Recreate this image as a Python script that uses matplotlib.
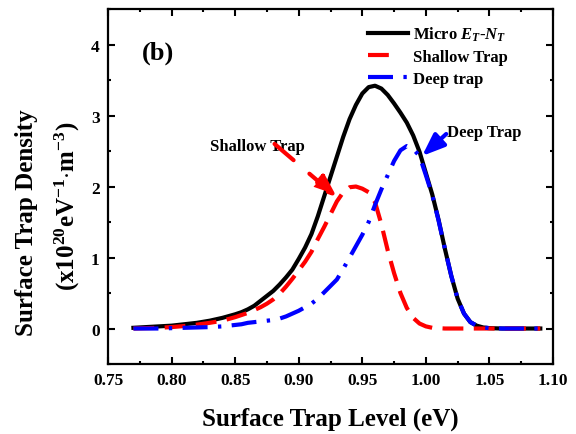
import matplotlib
matplotlib.use('Agg')
import matplotlib.pyplot as plt
from matplotlib.lines import Line2D
from matplotlib.ticker import MultipleLocator, FormatStrFormatter

# ---- data ----
energy = [0.77, 0.78, 0.79, 0.80, 0.81, 0.82, 0.83, 0.84,
          0.85, 0.855, 0.86, 0.865, 0.87, 0.875, 0.88, 0.885, 0.89, 0.895,
          0.90, 0.905, 0.91, 0.915, 0.92, 0.925, 0.93, 0.935, 0.94, 0.945,
          0.95, 0.955, 0.96, 0.965, 0.97, 0.975, 0.98, 0.985, 0.99, 0.995,
          1.00, 1.005, 1.01, 1.015, 1.02, 1.025, 1.03, 1.035, 1.04, 1.045,
          1.05, 1.06, 1.07, 1.08, 1.09]
micro = [0.01, 0.02, 0.03, 0.04, 0.06, 0.08, 0.11, 0.15,
         0.20, 0.23, 0.27, 0.32, 0.39, 0.46, 0.53, 0.62, 0.72, 0.83,
         0.98, 1.14, 1.33, 1.58, 1.86, 2.14, 2.42, 2.70, 2.95, 3.15,
         3.31, 3.40, 3.42, 3.38, 3.29, 3.17, 3.04, 2.90, 2.72, 2.49,
         2.19, 1.89, 1.53, 1.12, 0.74, 0.42, 0.21, 0.09, 0.04, 0.015,
         0.005, 0.0, 0.0, 0.0, 0.0]
shallow = [0.0, 0.005, 0.01, 0.02, 0.035, 0.055, 0.08, 0.11,
           0.16, 0.19, 0.22, 0.26, 0.30, 0.35, 0.41, 0.49, 0.59, 0.70,
           0.82, 0.94, 1.08, 1.26, 1.43, 1.61, 1.79, 1.92, 1.99, 2.00,
           1.97, 1.92, 1.78, 1.47, 1.10, 0.78, 0.50, 0.29, 0.15, 0.07,
           0.03, 0.01, 0.005, 0.0, 0.0, 0.0, 0.0, 0.0, 0.0, 0.0,
           0.0, 0.0, 0.0, 0.0, 0.0]
deep = [0.0, 0.0, 0.0, 0.005, 0.01, 0.015, 0.02, 0.03,
        0.05, 0.06, 0.08, 0.09, 0.10, 0.11, 0.12, 0.14, 0.17, 0.21,
        0.25, 0.30, 0.35, 0.42, 0.51, 0.60, 0.69, 0.84, 1.00, 1.16,
        1.32, 1.50, 1.74, 1.96, 2.16, 2.36, 2.51, 2.57, 2.53, 2.43,
        2.16, 1.88, 1.52, 1.12, 0.74, 0.42, 0.21, 0.09, 0.04, 0.015,
        0.005, 0.0, 0.0, 0.0, 0.0]
series_labels = ['Micro $E_T$-$N_T$', 'Shallow Trap', 'Deep trap']
x_ticks = [0.75, 0.80, 0.85, 0.90, 0.95, 1.00, 1.05, 1.10]
y_ticks = [0, 1, 2, 3, 4]

plt.rcParams.update({
    'font.family': ['Liberation Serif', 'DejaVu Serif'],
    'font.weight': 'bold',
    'axes.labelweight': 'bold',
    'mathtext.fontset': 'custom',
    'mathtext.rm': 'Liberation Serif:bold',
    'mathtext.it': 'Liberation Serif:italic:bold',
    'mathtext.bf': 'Liberation Serif:bold',
    'axes.linewidth': 1.6,
})

fig = plt.figure(figsize=(5.76, 4.35), dpi=100)
ax = fig.add_axes([0.1875, 0.1609, 0.7726, 0.816])

ax.plot(energy, micro, color='black', lw=3, zorder=2)
ax.plot(energy, shallow, color='red', lw=3, dashes=(5, 2.5), zorder=3)
ax.plot(energy, deep, color='blue', lw=3, dashes=(6, 2.5, 0.8, 2.5), zorder=4)

ax.set_xlim(0.75, 1.10)
ax.set_ylim(-0.5, 4.5)
ax.set_xticks(x_ticks)
ax.set_yticks(y_ticks)
ax.xaxis.set_major_formatter(FormatStrFormatter('%.2f'))
ax.xaxis.set_minor_locator(MultipleLocator(0.025))
ax.yaxis.set_minor_locator(MultipleLocator(0.5))
ax.tick_params(which='both', direction='in', top=True, right=True, width=1.5)
ax.tick_params(which='major', length=5, labelsize=12.5, pad=6)
ax.tick_params(which='minor', length=2.5)

ax.set_xlabel('Surface Trap Level (eV)', fontsize=18, fontweight='bold', labelpad=13)
fig.text(27 / 576, 1 - 223 / 435, 'Surface Trap Density', rotation=90,
         ha='center', va='center', fontsize=18, fontweight='bold')
fig.text(67 / 576, 1 - 206 / 435, '(x10$^{20}$eV$^{-1}$$\\cdot$m$^{-3}$)', rotation=90,
         ha='center', va='center', fontsize=18, fontweight='bold')

handles = [Line2D([], [], color='black', lw=3),
           Line2D([], [], color='red', lw=3, dashes=(5, 6)),
           Line2D([], [], color='blue', lw=3, dashes=(6, 2.5, 0.8, 2.5))]
ax.legend(handles, series_labels, loc='upper left', bbox_to_anchor=(0.584, 0.955),
          frameon=False, prop={'size': 12, 'weight': 'bold'}, handlelength=2.4,
          handletextpad=0.3, labelspacing=0.35, borderpad=0, borderaxespad=0)

ax.text(0.789, 3.89, '(b)', fontsize=19, fontweight='bold', ha='center', va='center')
ax.text(0.830, 2.57, 'Shallow Trap', fontsize=12, fontweight='bold', ha='left', va='center')
ax.text(1.017, 2.77, 'Deep Trap', fontsize=12, fontweight='bold', ha='left', va='center')

ax.annotate('', xy=(0.930, 1.85), xytext=(0.881, 2.60),
            arrowprops=dict(arrowstyle='-|>,head_length=0.9,head_width=0.35',
                            color='red', lw=3, linestyle=(0, (6, 5)),
                            mutation_scale=15, shrinkA=0, shrinkB=0))
ax.annotate('', xy=(0.997, 2.43), xytext=(1.016, 2.74),
            arrowprops=dict(arrowstyle='-|>,head_length=0.9,head_width=0.35',
                            color='blue', lw=3,
                            mutation_scale=15, shrinkA=0, shrinkB=0))

fig.savefig('out.png', dpi=100)
